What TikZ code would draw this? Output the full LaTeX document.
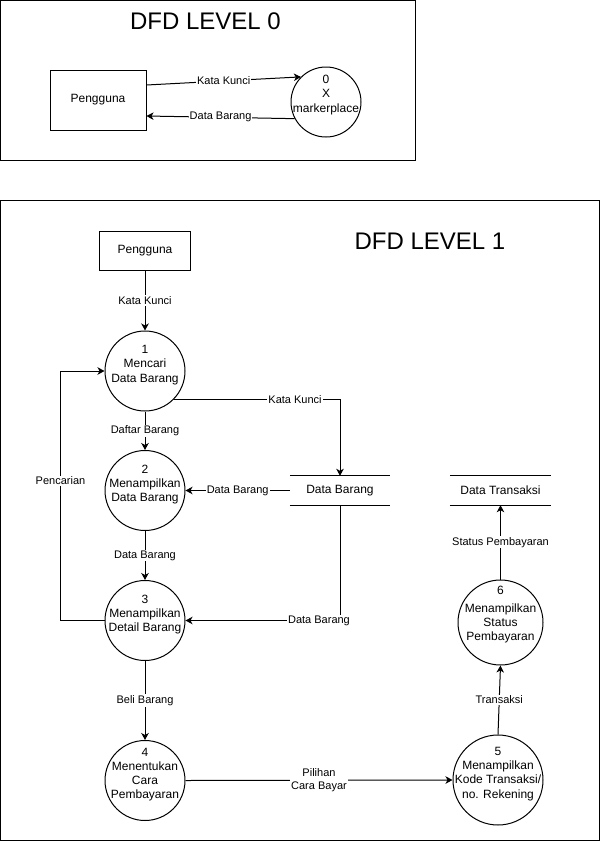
\documentclass[tikz,border=0pt]{standalone}
\usepackage{fontspec}
\setmainfont{Liberation Sans}
\usetikzlibrary{arrows.meta,calc}
\begin{document}
\begin{tikzpicture}[x=1pt,y=-1pt,
  every node/.style={font=\fontsize{12}{14.4}\selectfont},
  frame/.style={draw, line width=1pt},
  ent/.style={draw, line width=1pt, inner sep=0pt},
  proc/.style={circle, draw, line width=1pt, inner sep=0pt},
  ptxt/.style={align=center, inner sep=0pt, font=\fontsize{12}{14.2}\selectfont},
  store/.style={inner sep=0pt, minimum height=29pt},
  flow/.style={line width=1pt, -{Stealth[length=7pt,width=7.5pt,inset=2pt]}},
  lbl/.style={fill=white, inner sep=1pt, align=center, font=\fontsize{11}{13.2}\selectfont},
  ttl/.style={font=\fontsize{24}{28}\selectfont, inner sep=0pt},
]
\useasboundingbox (0,0) rectangle (601,841);
\fill[white] (0,0) rectangle (601,841);

% ---------- Level 0 ----------
\draw[frame] (0.5,0.5) rectangle (415.5,160.5);
\node[ttl] (t0) at (205.5,21) {DFD LEVEL 0};
\node[ent, minimum width=96pt, minimum height=60pt] (p0) at (98,100) {Pengguna};
\node[proc, minimum size=70pt] (c0) at (326,102) {};
\node[ptxt] (c0t) at ([yshift=7pt]c0.center) {0\\X\\markerplace};
\draw[flow] ([yshift=15pt]p0.east) -- (c0.135)
  node[lbl, pos=0.5] {Kata Kunci};
\draw[flow] (c0.208) -- ([yshift=-16pt]p0.east)
  node[lbl, pos=0.5] {Data Barang};

% ---------- Level 1 ----------
\draw[frame] (0.5,200.5) rectangle (599.5,840);
\node[ttl] (t1) at (430,241) {DFD LEVEL 1};
\node[ent, minimum width=91pt, minimum height=39pt] (p1) at (145,250.5) {Pengguna};

\node[proc, minimum size=80pt] (c1) at (145,371) {};
\node[ptxt] at ([yshift=6pt]c1.center) {1\\Mencari\\Data Barang};
\node[proc, minimum size=80pt] (c2) at (145,490.5) {};
\node[ptxt] at ([yshift=6pt]c2.center) {2\\Menampilkan\\Data Barang};
\node[proc, minimum size=80pt] (c3) at (145,620.5) {};
\node[ptxt] at ([yshift=6pt]c3.center) {3\\Menampilkan\\Detail Barang};
\node[proc, minimum size=80pt] (c4) at (145,780.5) {};
\node[ptxt] at ([yshift=6pt]c4.center) {4\\Menentukan\\Cara\\Pembayaran};
\node[proc, minimum size=90pt] (c5) at (498,780) {};
\node[ptxt] at ([yshift=6pt]c5.center) {5\\Menampilkan\\Kode Transaksi/\\no. Rekening};
\node[proc, minimum size=85pt] (c6) at (500.5,622.5) {};
\node[ptxt] at ([yshift=8pt]c6.center) {6\\[4pt]Menampilkan\\Status\\Pembayaran};

\node[store, minimum width=100pt] (db) at (340,490.5) {Data Barang};
\draw[line width=1pt] (db.north west) -- (db.north east) (db.south west) -- (db.south east);
\node[store, minimum width=101pt] (dt) at (500.5,490.5) {Data Transaksi};
\draw[line width=1pt] (dt.north west) -- (dt.north east) (dt.south west) -- (dt.south east);

\coordinate (pc) at (60.5,620.5);

\draw[flow] (p1.south) -- (c1.north) node[lbl, pos=0.5] {Kata Kunci};
\draw[flow] (c1.south) -- (c2.north) node[lbl, pos=0.5] {Daftar Barang};
\draw[flow] (c2.south) -- (c3.north) node[lbl, pos=0.5] {Data Barang};
\draw[flow] (c3.south) -- (c4.north) node[lbl, pos=0.5] {Beli Barang};
\draw[flow] (c4.east) -- (c5.west) node[lbl, pos=0.5] {Pilihan\\Cara Bayar};
\draw[flow] (c5.north) -- (c6.south) node[lbl, pos=0.5] {Transaksi};
\draw[flow] (c6.north) -- (dt.south) node[lbl, pos=0.5] {Status Pembayaran};
\draw[flow] (c1.-45) -| (db.north) node[lbl, pos=0.365] {Kata Kunci};
\draw[flow] (db.west) -- (c2.east) node[lbl, pos=0.5] {Data Barang};
\draw[flow] (db.south) |- (c3.east) node[lbl, pos=0.568] {Data Barang};
\draw[flow] (c3.west) -- (pc) |- (c1.west) node[lbl, pos=0.28] {Pencarian};
\end{tikzpicture}
\end{document}
